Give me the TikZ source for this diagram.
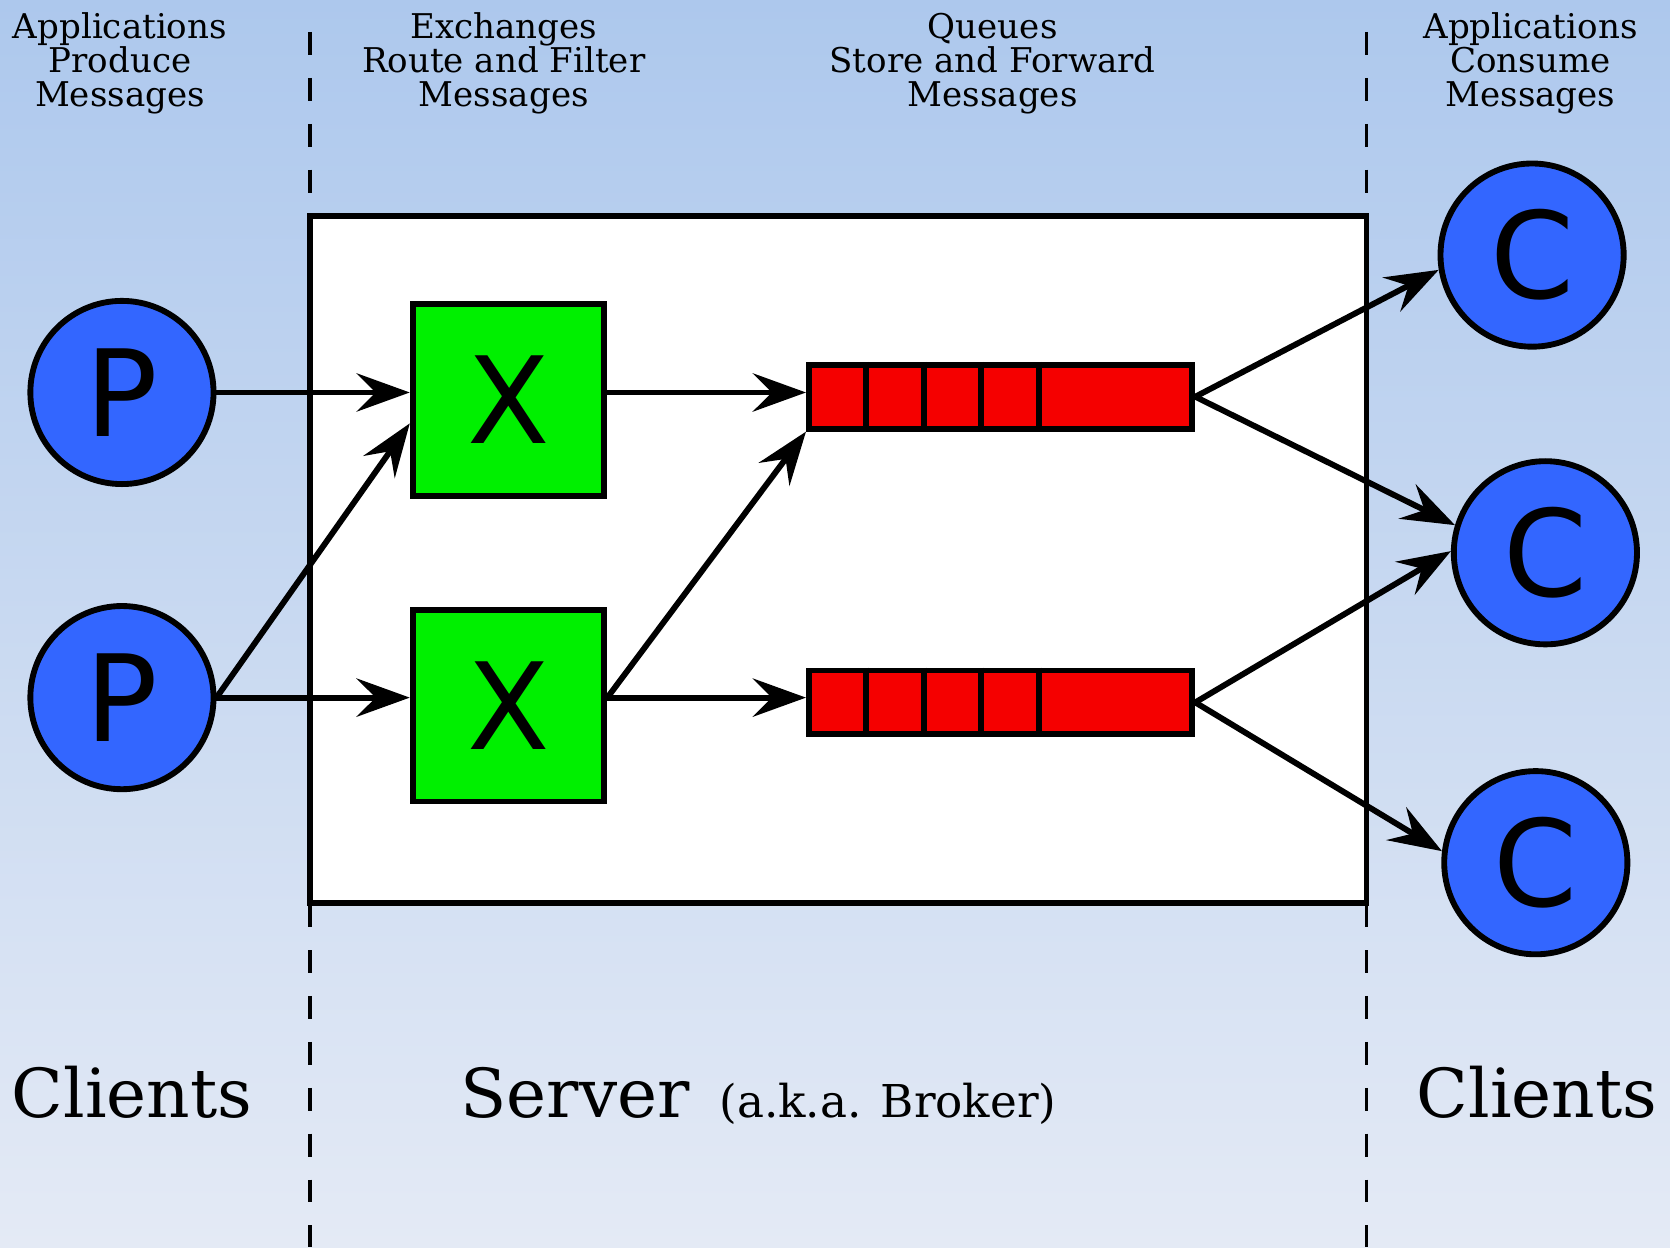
\documentclass[tikz,border=0pt]{standalone}
\usepackage{fontspec}
\setmainfont{DejaVu Serif}
\newfontfamily\sansf{DejaVu Sans}
\usetikzlibrary{arrows.meta,calc}
\definecolor{bgtop}{RGB}{173,200,237}
\definecolor{bgmid}{RGB}{209,221,240}
\definecolor{bgbot}{RGB}{228,234,245}
\definecolor{cblue}{RGB}{51,102,255}
\definecolor{xgreen}{RGB}{0,240,0}
\definecolor{qred}{RGB}{245,0,0}
\begin{document}
\begin{tikzpicture}[x=1pt,y=-1pt,
  client/.style={circle,draw=black,line width=5.5pt,fill=cblue,minimum size=172pt,inner sep=0pt,font=\sansf\fontsize{113}{113}\selectfont},
  xbox/.style={rectangle,draw=black,line width=5.5pt,fill=xgreen,minimum size=180pt,inner sep=0pt,font=\sansf\fontsize{113}{113}\selectfont},
  qbox/.style={rectangle,draw=black,line width=5.5pt,fill=qred,minimum width=360pt,minimum height=60pt,inner sep=0pt},
  arr/.style={line width=5.5pt,-{Stealth[length=50pt,width=36pt,inset=18pt]}},
  toplab/.style={align=center,inner sep=0pt,anchor=base,font=\fontsize{32}{32}\selectfont},
  biglab/.style={inner sep=0pt,anchor=base west,font=\fontsize{63.5}{70}\selectfont},
  sepline/.style={line width=3pt,dash pattern=on 21.5pt off 21.6pt},
  qdiv/.style={line width=5.5pt}
]
\useasboundingbox (0,0) rectangle (1568,1171);
\shade[top color=bgtop,middle color=bgmid,bottom color=bgbot] (0,0) rectangle (1568,1171);

% separators
\draw[sepline] (291,30) -- (291,1171);
\draw[sepline] (1283,30) -- (1283,1171);

% server box
\node[draw=black,line width=5.5pt,fill=white,minimum width=992pt,minimum height=645pt,inner sep=0pt] (server) at (787,525) {};

% top labels (anchor base = baseline of last line)
\node[toplab] (l1) at (112.6,100) {Applications\\Produce\\Messages};
\node[toplab] (l2) at (473,100) {Exchanges\\Route and Filter\\Messages};
\node[toplab] (l3) at (932,100) {Queues\\Store and Forward\\Messages};
\node[toplab] (l4) at (1437,100) {Applications\\Consume\\Messages};

% bottom labels
\node[biglab] (b1) at (11,1049) {Clients};
\node[biglab] (b2) at (432,1049) {Server\hspace{28pt}{\fontsize{42.5}{50}\selectfont(a.k.a. Broker)}};
\node[biglab] (b3) at (1330,1049) {Clients};

% producers
\node[client] (p1) at (114.5,368.5) {P};
\node[client] (p2) at (114.5,655) {P};

% exchanges
\node[xbox] (x1) at (477.5,375.5) {X};
\node[xbox] (x2) at (477.5,662.5) {X};

% queues
\node[qbox] (q1) at (939.5,372.5) {};
\node[qbox] (q2) at (939.5,659.5) {};
\foreach \q in {q1,q2}{
  \foreach \i in {1,2,3,4}{
    \draw[qdiv] ($(\q.north west)+(2.5+54*\i,0)$) -- ($(\q.south west)+(2.5+54*\i,0)$);
  }
}

% consumers
\node[client] (c1) at (1438.5,239.5) {C};
\node[client] (c2) at (1451,519) {C};
\node[client] (c3) at (1442,810) {C};

% connectors
\draw[arr] (p1.east) -- (p1.east -| x1.west);
\draw[arr] (p2.east) -- ($(x1.west)+(0,22)$);
\draw[arr] (p2.east) -- (p2.east -| x2.west);
\draw[arr] (p1.east -| x1.east) -- (p1.east -| q1.west);
\draw[arr] (p2.east -| x2.east) -- (p2.east -| q2.west);
\draw[arr] (p2.east -| x2.east) -- (q1.south west);
\draw[arr] (q1.east) -- (c1.189);
\draw[arr] (q1.east) -- (c2.163);
\draw[arr] (q2.east) -- (c2.179);
\draw[arr] (q2.east) -- (c3.173);
\end{tikzpicture}
\end{document}
